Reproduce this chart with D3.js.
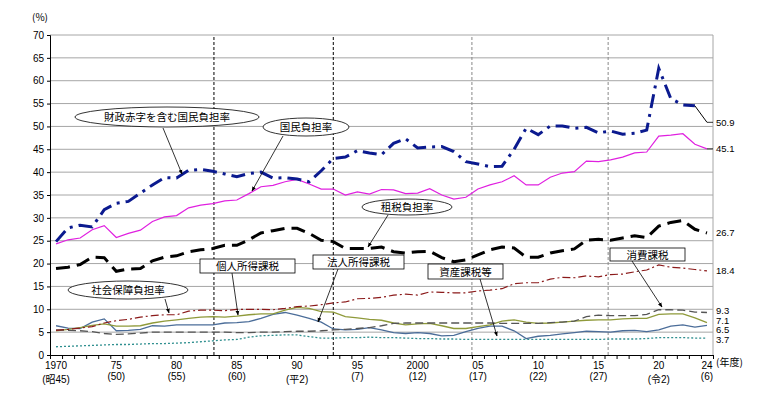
<!DOCTYPE html>
<html>
<head>
<meta charset="utf-8">
<script src="https://cdn.jsdelivr.net/npm/d3@7"></script>
<style>
  body { margin: 0; background: #fff; }
  svg { font-family: "Noto Sans CJK JP", "DejaVu Sans", sans-serif; }
</style>
</head>
<body>
<svg id="chart"></svg>
<script>
const years = d3.range(1970, 2025);

const deficitBurden = [
  24.8, 27.8, 28.4, 28.0, 31.8, 33.2, 33.6, 35.4, 37.2, 38.8,
  38.7, 40.4, 40.6, 40.2, 39.6, 39.0, 39.7, 40.0, 38.7, 38.8,
  38.5, 37.9, 40.3, 43.0, 43.3, 44.7, 44.2, 43.8, 46.3, 47.3,
  45.3, 45.5, 45.6, 44.5, 42.3, 41.8, 41.2, 41.3, 45.0, 49.6,
  48.2, 50.1, 50.1, 49.6, 49.8, 48.6, 49.0, 48.3, 48.5, 49.2,
  62.7, 56.1, 54.7, 54.5, 50.9
];
const nationalBurden = [
  24.3, 25.2, 25.6, 27.4, 28.3, 25.7, 26.6, 27.3, 29.2, 30.2,
  30.5, 32.2, 32.8, 33.1, 33.7, 33.9, 35.3, 36.8, 37.1, 37.9,
  38.4, 37.4, 36.3, 36.3, 35.0, 35.7, 35.2, 36.2, 36.1, 35.3,
  35.4, 36.4, 35.0, 34.1, 34.5, 36.3, 37.2, 37.9, 39.2, 37.2,
  37.2, 38.9, 39.8, 40.1, 42.4, 42.3, 42.7, 43.3, 44.2, 44.4,
  47.9, 48.1, 48.4, 46.1, 45.1
];
const taxBurden = [
  18.9, 19.2, 19.8, 21.4, 21.3, 18.3, 18.8, 18.9, 20.6, 21.4,
  21.7, 22.6, 23.0, 23.3, 24.0, 24.0, 25.2, 26.7, 27.2, 27.7,
  27.7, 26.6, 25.1, 24.8, 23.3, 23.3, 23.3, 23.6, 22.6, 22.3,
  22.6, 22.7, 21.3, 20.4, 20.8, 21.9, 23.0, 23.6, 23.4, 21.4,
  21.4, 22.3, 22.8, 23.2, 25.1, 25.3, 25.1, 25.6, 26.1, 25.7,
  28.2, 29.0, 29.4, 27.5, 26.7
];
const socialBurden = [
  5.4, 5.6, 5.9, 6.2, 7.0, 7.5, 7.8, 8.3, 8.6, 8.8,
  8.8, 9.6, 9.8, 9.8, 9.7, 10.0, 10.0, 10.0, 9.9, 10.2,
  10.6, 10.7, 11.0, 11.4, 11.6, 12.3, 12.4, 12.6, 13.1, 13.3,
  13.1, 13.8, 13.7, 13.6, 13.6, 14.0, 14.2, 14.5, 15.6, 15.8,
  15.8, 16.6, 17.0, 16.9, 17.3, 17.1, 17.6, 17.7, 18.2, 18.6,
  19.7, 19.2, 19.0, 18.7, 18.4
];
const consumptionTax = [
  5.5, 5.4, 5.3, 5.1, 4.7, 4.5, 4.6, 4.8, 5.0, 5.0,
  5.0, 5.0, 5.0, 5.0, 5.0, 4.9, 4.9, 5.0, 5.0, 5.1,
  5.2, 5.2, 5.3, 5.5, 5.6, 5.8, 6.0, 6.4, 6.9, 7.0,
  7.0, 7.0, 7.0, 7.0, 7.0, 7.0, 7.0, 6.9, 6.9, 6.9,
  6.9, 7.1, 7.2, 7.4, 8.4, 8.7, 8.6, 8.6, 8.6, 8.9,
  9.9, 9.9, 9.8, 9.4, 9.3
];
const personalIncomeTax = [
  5.3, 5.6, 6.0, 6.5, 6.8, 6.3, 6.3, 6.4, 7.0, 7.4,
  7.7, 8.0, 8.3, 8.4, 8.3, 8.5, 8.8, 9.0, 9.0, 9.8,
  10.4, 10.2, 9.5, 9.4, 8.4, 8.1, 7.8, 7.6, 7.0, 6.6,
  6.8, 6.9, 6.4, 5.8, 5.8, 6.2, 6.6, 7.4, 7.7, 7.2,
  6.9, 7.0, 7.2, 7.4, 7.6, 7.7, 7.7, 7.9, 8.0, 8.0,
  8.9, 9.0, 9.0, 8.1, 7.1
];
const corporateTax = [
  6.4, 5.9, 5.8, 7.2, 7.9, 5.3, 5.4, 5.6, 6.4, 6.3,
  6.6, 6.6, 6.6, 6.6, 7.0, 7.1, 7.3, 8.0, 8.9, 9.3,
  8.7, 8.0, 7.2, 5.7, 5.5, 5.6, 6.0, 5.5, 4.9, 4.7,
  4.9, 4.7, 4.2, 4.3, 5.1, 5.8, 6.3, 6.3, 5.3, 3.6,
  4.1, 4.3, 4.6, 4.9, 5.2, 5.1, 5.0, 5.3, 5.4, 5.1,
  5.5, 6.3, 6.6, 6.1, 6.5
];
const assetTax = [
  1.8, 1.9, 2.0, 2.1, 2.2, 2.3, 2.3, 2.4, 2.5, 2.5,
  2.6, 2.7, 2.9, 3.1, 3.3, 3.4, 3.9, 4.2, 4.3, 4.4,
  4.4, 4.0, 3.7, 3.7, 3.8, 3.8, 3.9, 3.8, 3.8, 3.7,
  3.6, 3.6, 3.5, 3.5, 3.4, 3.4, 3.4, 3.4, 3.4, 3.4,
  3.4, 3.4, 3.4, 3.4, 3.4, 3.4, 3.5, 3.5, 3.5, 3.6,
  3.8, 3.8, 3.8, 3.7, 3.7
];

const yTicks = d3.range(0, 71, 5);
const xLabels = [
  { year: 1970, top: "1970", bottom: "(昭45)" },
  { year: 1975, top: "75", bottom: "(50)" },
  { year: 1980, top: "80", bottom: "(55)" },
  { year: 1985, top: "85", bottom: "(60)" },
  { year: 1990, top: "90", bottom: "(平2)" },
  { year: 1995, top: "95", bottom: "(7)" },
  { year: 2000, top: "2000", bottom: "(12)" },
  { year: 2005, top: "05", bottom: "(17)" },
  { year: 2010, top: "10", bottom: "(22)" },
  { year: 2015, top: "15", bottom: "(27)" },
  { year: 2020, top: "20", bottom: "(令2)" },
  { year: 2024, top: "24", bottom: "(6)" }
];
const dividers = [
  { year: 1983.1, color: "#000" },
  { year: 1993, color: "#000" },
  { year: 2004.5, color: "#888" },
  { year: 2015.8, color: "#888" }
];

const width = 768, height = 399;
const plot = { left: 50, right: 713, top: 35, bottom: 355 };

const svg = d3.select("#chart").attr("width", width).attr("height", height);

const x = d3.scaleLinear().domain([1969.5, 2024.5]).range([plot.left, plot.right]);
const y = d3.scaleLinear().domain([0, 70]).range([plot.bottom, plot.top]);

// arrow head
svg.append("defs").append("marker")
  .attr("id", "arrow")
  .attr("viewBox", "0 0 10 10")
  .attr("refX", 9).attr("refY", 5)
  .attr("markerWidth", 6).attr("markerHeight", 6)
  .attr("orient", "auto")
  .append("path").attr("d", "M0,1 L10,5 L0,9 z").attr("fill", "#000");

// grid
svg.append("g")
  .selectAll("line")
  .data(yTicks.filter(d => d > 0))
  .enter().append("line")
  .attr("x1", plot.left).attr("x2", plot.right)
  .attr("y1", d => y(d)).attr("y2", d => y(d))
  .attr("stroke", "#a6a6a6").attr("stroke-width", 1);

svg.append("line")
  .attr("x1", plot.right).attr("x2", plot.right)
  .attr("y1", plot.top).attr("y2", plot.bottom)
  .attr("stroke", "#a6a6a6");

// y axis
const yAxis = svg.append("g")
  .attr("transform", `translate(${plot.left},0)`)
  .call(d3.axisLeft(y).tickValues(yTicks).tickSize(3).tickFormat(d3.format("d")));
yAxis.select(".domain").attr("stroke", "#000");
yAxis.selectAll("text").attr("font-size", 10).attr("fill", "#000")
  .attr("font-family", "Liberation Sans, Arial, sans-serif");

svg.append("text").attr("x", 40).attr("y", 21)
  .attr("text-anchor", "middle").attr("font-size", 10).text("(%)");

// x axis ticks at year boundaries
const xTickVals = d3.range(1969.5, 2025, 1);
const xAxis = svg.append("g")
  .attr("transform", `translate(0,${plot.bottom})`)
  .call(d3.axisBottom(x).tickValues(xTickVals).tickSize(4).tickFormat(""));
xAxis.select(".domain").attr("stroke", "#000");

const xl = svg.append("g").attr("font-size", 10)
  .attr("font-family", "Liberation Sans, 'Noto Sans CJK JP', sans-serif")
  .attr("text-anchor", "middle");
xl.selectAll("text.top").data(xLabels).enter().append("text")
  .attr("class", "top")
  .attr("x", d => x(d.year)).attr("y", 369).text(d => d.top);
xl.selectAll("text.bot").data(xLabels).enter().append("text")
  .attr("class", "bot")
  .attr("x", d => x(d.year))
  .attr("y", d => /[昭平令]/.test(d.bottom) ? 383 : 380)
  .text(d => d.bottom);
svg.append("text").attr("x", 716).attr("y", 366).attr("font-size", 10).text("(年度)");

// dividers
svg.append("g").selectAll("line").data(dividers).enter().append("line")
  .attr("x1", d => x(d.year)).attr("x2", d => x(d.year))
  .attr("y1", 37).attr("y2", plot.bottom)
  .attr("stroke", d => d.color).attr("stroke-width", 1)
  .attr("stroke-dasharray", "3,2");

// series
const series = [
  { values: assetTax, color: "#2f8f8f", width: 1.3, dash: "2,2" },
  { values: corporateTax, color: "#4b6d99", width: 1.3, dash: null },
  { values: personalIncomeTax, color: "#8f9a3a", width: 1.3, dash: null },
  { values: consumptionTax, color: "#555", width: 1.3, dash: "8,4" },
  { values: socialBurden, color: "#8b1a1a", width: 1.2, dash: "8,3,2,3" },
  { values: taxBurden, color: "#000", width: 3, dash: "14,7" },
  { values: nationalBurden, color: "#e020e0", width: 1.2, dash: null },
  { values: deficitBurden.slice(0, -1), color: "#0b1a8f", width: 3, dash: "14,6,3,6" }
];

const line = d3.line().x((d, i) => x(years[i])).y(d => y(d));

svg.append("g").selectAll("path").data(series).enter().append("path")
  .attr("d", d => line(d.values))
  .attr("fill", "none")
  .attr("stroke", d => d.color)
  .attr("stroke-width", d => d.width)
  .attr("stroke-dasharray", d => d.dash);

// last segment of deficit line drawn thin black
const n = years.length;
svg.append("line")
  .attr("x1", x(years[n - 2])).attr("y1", y(deficitBurden[n - 2]))
  .attr("x2", x(years[n - 1])).attr("y2", y(deficitBurden[n - 1]))
  .attr("stroke", "#000").attr("stroke-width", 1);

// short leaders to the end labels
svg.append("g").selectAll("line")
  .data([deficitBurden[n - 1], nationalBurden[n - 1]])
  .enter().append("line")
  .attr("x1", x(years[n - 1])).attr("x2", plot.right)
  .attr("y1", d => y(d)).attr("y2", d => y(d))
  .attr("stroke", "#000").attr("stroke-width", 0.8);

// end labels
const endLabels = [
  { v: deficitBurden[n - 1], dy: 0 },
  { v: nationalBurden[n - 1], dy: 0 },
  { v: taxBurden[n - 1], dy: 0 },
  { v: socialBurden[n - 1], dy: 0 },
  { v: consumptionTax[n - 1], dy: -1.5 },
  { v: personalIncomeTax[n - 1], dy: -2 },
  { v: corporateTax[n - 1], dy: 4.7 },
  { v: assetTax[n - 1], dy: 1.4 }
];
svg.append("g").selectAll("text").data(endLabels).enter().append("text")
  .attr("x", 716).attr("y", d => y(d.v) + d.dy + 3.5)
  .attr("font-size", 9.5)
  .attr("font-family", "Liberation Sans, Arial, sans-serif")
  .text(d => d3.format(".1f")(d.v));

// callouts
const ellipses = [
  { text: "財政赤字を含む国民負担率", cx: 167, cy: 117, rx: 92, ry: 10, ax: 163, ay: 128, bx: 182, by: 174 },
  { text: "国民負担率", cx: 306, cy: 127, rx: 43, ry: 9, ax: 283, ay: 136, bx: 252, by: 191 },
  { text: "租税負担率", cx: 407, cy: 207, rx: 45, ry: 8, ax: 388, ay: 215, bx: 368, by: 247 },
  { text: "社会保障負担率", cx: 128, cy: 290, rx: 60, ry: 9, ax: 165, ay: 299, bx: 169, by: 313 }
];
const boxes = [
  { text: "個人所得課税", x0: 200, y0: 259, x1: 295, y1: 273, ax: 232, ay: 273, bx: 238, by: 315 },
  { text: "法人所得課税", x0: 313, y0: 255, x1: 404, y1: 269, ax: 338, ay: 269, bx: 318, by: 322 },
  { text: "資産課税等", x0: 428, y0: 264, x1: 503, y1: 279, ax: 480, ay: 279, bx: 497, by: 336 },
  { text: "消費課税", x0: 610, y0: 248, x1: 685, y1: 261, ax: 632, ay: 261, bx: 662, by: 307 }
];

const callouts = svg.append("g");
ellipses.concat(boxes).forEach(c => {
  callouts.append("line")
    .attr("x1", c.ax).attr("y1", c.ay).attr("x2", c.bx).attr("y2", c.by)
    .attr("stroke", "#000").attr("stroke-width", 0.8)
    .attr("marker-end", "url(#arrow)");
});
ellipses.forEach(c => {
  callouts.append("ellipse")
    .attr("cx", c.cx).attr("cy", c.cy).attr("rx", c.rx).attr("ry", c.ry)
    .attr("fill", "#fff").attr("stroke", "#000").attr("stroke-width", 0.8);
  callouts.append("text").attr("x", c.cx).attr("y", c.cy + 4)
    .attr("text-anchor", "middle").attr("font-size", 10.5).text(c.text);
});
boxes.forEach(c => {
  callouts.append("rect")
    .attr("x", c.x0).attr("y", c.y0)
    .attr("width", c.x1 - c.x0).attr("height", c.y1 - c.y0)
    .attr("fill", "#fff").attr("stroke", "#000").attr("stroke-width", 0.8);
  callouts.append("text").attr("x", (c.x0 + c.x1) / 2).attr("y", (c.y0 + c.y1) / 2 + 4)
    .attr("text-anchor", "middle").attr("font-size", 10.5).text(c.text);
});
</script>
</body>
</html>
